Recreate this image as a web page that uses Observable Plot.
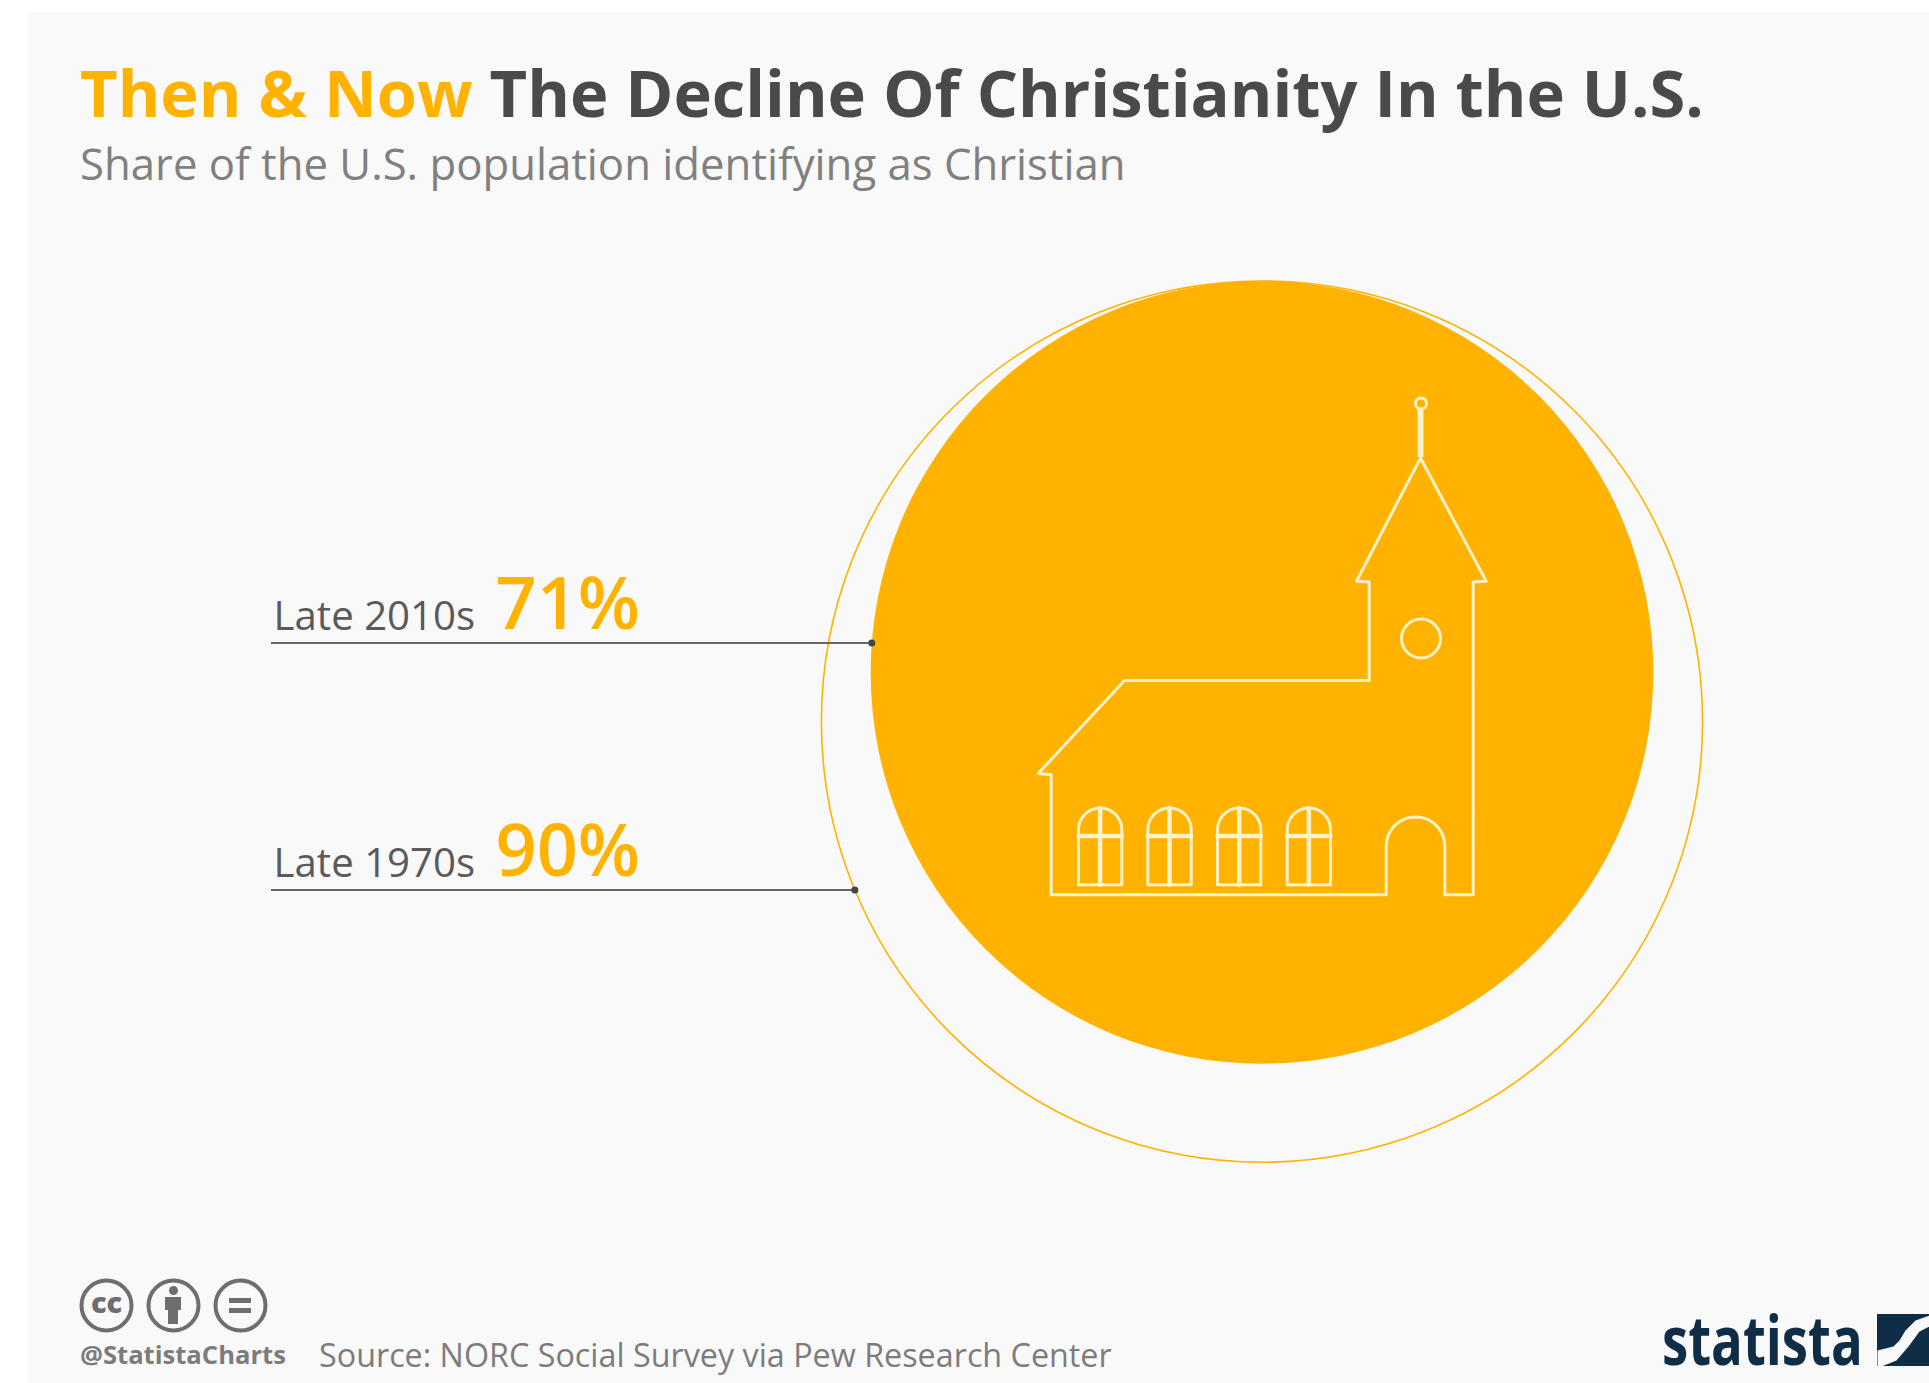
<!DOCTYPE html>
<html><head><meta charset="utf-8">
<script src="https://cdn.jsdelivr.net/npm/d3@7"></script>
<script src="https://cdn.jsdelivr.net/npm/@observablehq/plot@0.6"></script>
<style>
html,body{margin:0;padding:0;background:#fff;width:1929px;height:1383px;overflow:hidden;font-family:"Open Sans",sans-serif}
#panel{position:absolute;left:28px;top:12px;right:0;bottom:0;background:#f9f9f9}
#chart{position:absolute;left:0;top:0}
.t{position:absolute;white-space:nowrap;line-height:1}
#title{left:80px;top:60px;font-size:65px;font-weight:700;color:#4a4a4a}
#title span{color:#ffb300}
#sub{left:80px;top:142px;font-size:43.7px;color:#808080}
#handle{left:80px;top:1342px;font-size:25.6px;font-weight:700;color:#7c7c7c}
#source{left:319px;top:1338px;font-size:32.3px;color:#7c7c7c}
#logo{left:1662px;top:1305px;font-size:68px;font-weight:700;color:#0f2d46;transform:scaleX(.775);transform-origin:left top}
</style></head><body>
<div id="panel"></div>
<div id="chart"></div>
<div class="t" id="title"><span>Then &amp; Now</span> The Decline Of Christianity In the U.S.</div>
<div class="t" id="sub">Share of the U.S. population identifying as Christian</div>
<div class="t" id="handle">@StatistaCharts</div>
<div class="t" id="source">Source: NORC Social Survey via Pew Research Center</div>
<div class="t" id="logo">statista</div>
<script>
const periods = ["Late 2010s", "Late 1970s"];
const shares = [71, 90];
const data = periods.map((period, i) => ({period, share: shares[i]}));

// layout of the picture
const W = 1929, H = 1383, cx = 1261.5, topY = 280.5, Rmax = 440.6;
const rOf = d3.scaleSqrt().domain([0, 90]).range([0, Rmax]);
const leaderY = [642.5, 889.5];
const leaderX0 = 271;
const rows = data.map((d, i) => {
  const r = rOf(d.share), cy = topY + r, y = leaderY[i];
  return {...d, r, cy, y, x2: cx - Math.sqrt(r * r - (y - cy) * (y - cy))};
});

// small helpers for the pictogram
const arc = (x0, x1, spring) => {
  const c = (x0 + x1) / 2, r = (x1 - x0) / 2, pts = [];
  for (let k = 0; k <= 24; k++) {
    const a = Math.PI * (1 - k / 24);
    pts.push([c + r * Math.cos(a), spring - r * Math.sin(a)]);
  }
  return pts;
};
const church = [
  [1050.7,894.3],[1050.7,774.3],[1037.7,772.9],[1124,680],[1368.7,680],[1368.7,581.4],
  [1356,580.7],[1420,457.5],[1485.7,580.7],[1472.7,581.4],[1472.7,894.3],[1444.3,894.3],
  ...arc(1385.7,1444.3,845.7).reverse(),[1385.7,894.3],[1050.7,894.3]
];
const paths = [church];
const thick = [];
for (const [x0,x1] of [[1078,1121.3],[1147.3,1190.7],[1217,1260.3],[1286.7,1330]]) {
  paths.push([[x0,884.3],...arc(x0,x1,829.2),[x1,884.3],[x0,884.3]]);
  thick.push([[(x0+x1)/2,807.5],[(x0+x1)/2,884.3]]);
  thick.push([[x0,835.4],[x1,835.4]]);
}
const line = (ps, o) => Plot.line(ps.flatMap((p,i)=>p.map(q=>({x:q[0],y:q[1],z:i}))), {x:"x",y:"y",z:"z",curve:"linear",...o});

const ccX = [106, 173, 240], ccY = 1305;
const swoosh = [[1877,1350],[1893,1346],[1899,1340],[1905,1330],[1915,1320],[1929,1315],[1929,1326],[1919,1331],[1908,1346],[1896,1360],[1881,1366],[1877,1366]];
const ink = "#fff1c8", grey = "#6e6e6e";

const chart = Plot.plot({
  width: W, height: H, margin: 0,
  style: {background: "transparent", fontFamily: "Open Sans"},
  x: {domain: [0, W], range: [0, W], axis: null},
  y: {domain: [0, H], range: [0, H], axis: null},
  r: {type: "sqrt", domain: [0, 90], range: [0, Rmax]},
  marks: [
    // circles: area proportional to share
    Plot.dot([rows[1]], {x: cx, y: "cy", r: "share", fill: "none", stroke: "#ffb300", strokeWidth: 1.6}),
    Plot.dot([rows[0]], {x: cx, y: "cy", r: "share", fill: "#ffb300", stroke: "none"}),
    // leaders
    Plot.ruleY(rows, {y: "y", x1: leaderX0, x2: "x2", stroke: "#666", strokeWidth: 2}),
    Plot.dot(rows, {x: "x2", y: "y", r: 3.5, fill: "#444", stroke: "none"}),
    Plot.text(rows, {x: 273, y: d => d.y - 13, text: "period", textAnchor: "start", lineAnchor: "bottom", fontSize: 40.2, fill: "#5a5a5a"}),
    Plot.text(rows, {x: 495, y: d => d.y - 14, text: d => d.share + "%", textAnchor: "start", lineAnchor: "bottom", fontSize: 72, fontWeight: 600, fill: "#ffb300"}),
    // church
    line(paths, {stroke: ink, strokeWidth: 3}),
    line(thick, {stroke: ink, strokeWidth: 4.5}),
    Plot.rect([0], {x1: 1417.5, x2: 1423.5, y1: 408, y2: 457, fill: ink}),
    Plot.dot([0], {x: 1420.5, y: 403, r: 5.5, fill: "none", stroke: ink, strokeWidth: 3}),
    Plot.dot([0], {x: 1420.5, y: 638, r: 19.5, fill: "none", stroke: ink, strokeWidth: 3}),
    // licence icons
    Plot.dot(ccX, {x: d => d, y: ccY, r: 25, fill: "none", stroke: grey, strokeWidth: 4}),
    Plot.text(["cc"], {x: ccX[0], y: ccY - 2, text: d => d, fontSize: 29, fontWeight: 800, fill: grey}),
    Plot.dot([0], {x: ccX[1], y: ccY - 15, r: 4.5, fill: grey, stroke: "none"}),
    Plot.rect([0], {x1: ccX[1] - 8, x2: ccX[1] + 8, y1: ccY - 8, y2: ccY + 5, fill: grey}),
    Plot.rect([0], {x1: ccX[1] - 5, x2: ccX[1] + 5, y1: ccY + 5, y2: ccY + 19, fill: grey}),
    Plot.rect([0], {x1: ccX[2] - 11, x2: ccX[2] + 11, y1: ccY - 7, y2: ccY - 2, fill: grey}),
    Plot.rect([0], {x1: ccX[2] - 11, x2: ccX[2] + 11, y1: ccY + 3, y2: ccY + 8, fill: grey}),
    // logo square
    Plot.rect([0], {x1: 1877, x2: W, y1: 1314, y2: 1366, fill: "#0f2d46"}),
    line([swoosh], {fill: "#f9f9f9", stroke: "none"})
  ]
});
document.getElementById("chart").append(chart);
</script>
</body></html>
